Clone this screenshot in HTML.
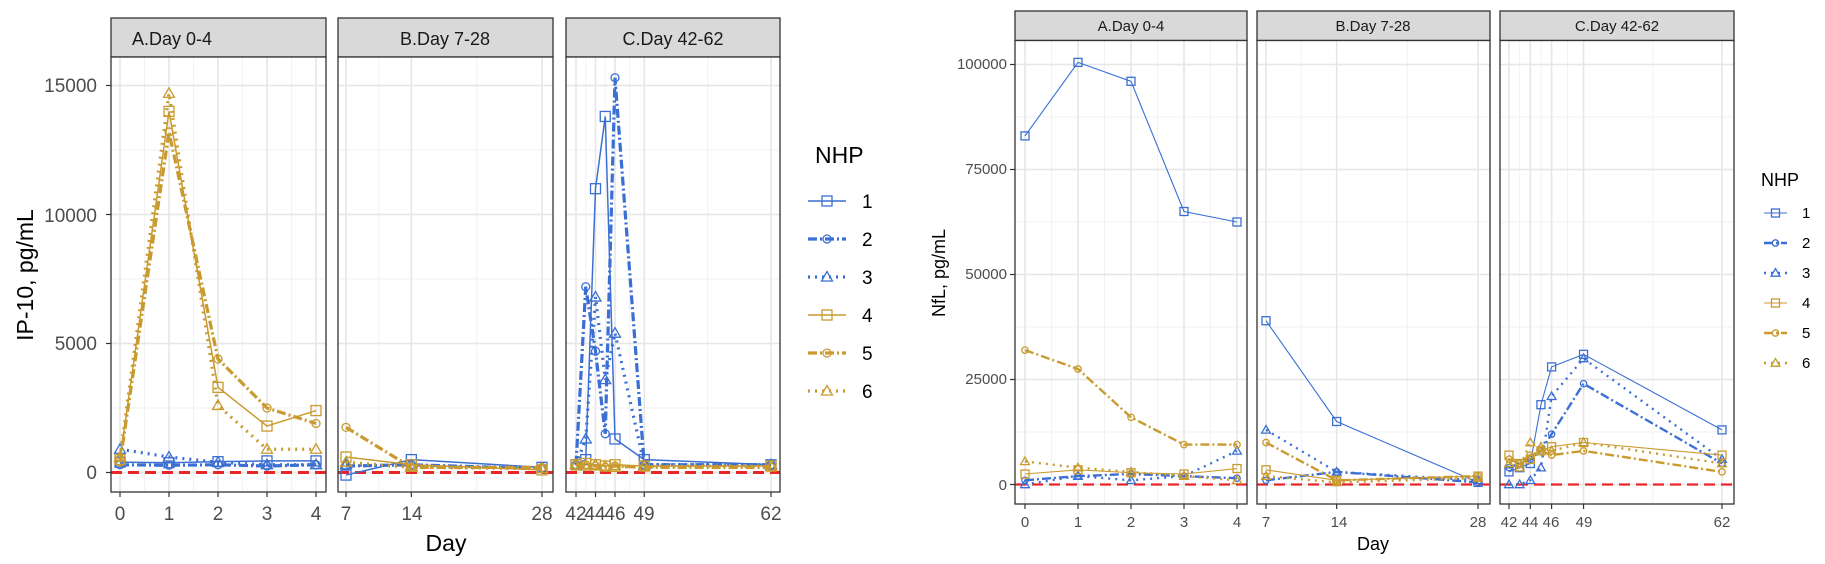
<!DOCTYPE html>
<html><head><meta charset="utf-8"><style>
body{margin:0;background:#fff;}
svg{display:block;font-family:"Liberation Sans",sans-serif;}
</style></head><body>
<svg id="s" width="1825" height="564" viewBox="0 0 1825 564" xmlns="http://www.w3.org/2000/svg">
<rect width="1825" height="564" fill="#fff"/>
<g id="g"></g>
<g fill="#4d4d4d" font-size="19">
<text x="172" y="45" text-anchor="middle" font-size="18" fill="#1a1a1a">A.Day 0-4</text>
<text x="445" y="45" text-anchor="middle" font-size="18" fill="#1a1a1a">B.Day 7-28</text>
<text x="673" y="45" text-anchor="middle" font-size="18" fill="#1a1a1a">C.Day 42-62</text>
<g text-anchor="end"><text x="97" y="92">15000</text><text x="97" y="222">10000</text><text x="97" y="350">5000</text><text x="97" y="479">0</text></g>
<g text-anchor="middle"><text x="120" y="520">0</text><text x="169" y="520">1</text><text x="218" y="520">2</text><text x="267" y="520">3</text><text x="316" y="520">4</text>
<text x="346" y="520">7</text><text x="412" y="520">14</text><text x="542" y="520">28</text>
<text x="576" y="520">42</text><text x="595" y="520">44</text><text x="615" y="520">46</text><text x="644" y="520">49</text><text x="771" y="520">62</text></g>
</g>
<text x="446" y="551" text-anchor="middle" font-size="23" fill="#000">Day</text>
<text transform="translate(33,275) rotate(-90)" text-anchor="middle" font-size="23" fill="#000">IP-10, pg/mL</text>
<text x="815" y="163" font-size="23" fill="#000">NHP</text>
<g font-size="19" fill="#000"><text x="862" y="208">1</text><text x="862" y="246">2</text><text x="862" y="284">3</text><text x="862" y="322">4</text><text x="862" y="360">5</text><text x="862" y="398">6</text></g>
<g fill="#4d4d4d" font-size="15">
<text x="1131" y="31" text-anchor="middle" fill="#1a1a1a">A.Day 0-4</text>
<text x="1373" y="31" text-anchor="middle" fill="#1a1a1a">B.Day 7-28</text>
<text x="1617" y="31" text-anchor="middle" fill="#1a1a1a">C.Day 42-62</text>
<g text-anchor="end"><text x="1007" y="69">100000</text><text x="1007" y="174">75000</text><text x="1007" y="279">50000</text><text x="1007" y="384">25000</text><text x="1007" y="490">0</text></g>
<g text-anchor="middle"><text x="1025" y="527">0</text><text x="1078" y="527">1</text><text x="1131" y="527">2</text><text x="1184" y="527">3</text><text x="1237" y="527">4</text>
<text x="1266" y="527">7</text><text x="1339" y="527">14</text><text x="1478" y="527">28</text>
<text x="1509" y="527">42</text><text x="1530" y="527">44</text><text x="1551" y="527">46</text><text x="1584" y="527">49</text><text x="1722" y="527">62</text></g>
</g>
<text x="1373" y="550" text-anchor="middle" font-size="18" fill="#000">Day</text>
<text transform="translate(945,273) rotate(-90)" text-anchor="middle" font-size="18" fill="#000">NfL, pg/mL</text>
<text x="1761" y="186" font-size="18" fill="#000">NHP</text>
<g font-size="15" fill="#000"><text x="1802" y="218">1</text><text x="1802" y="248">2</text><text x="1802" y="278">3</text><text x="1802" y="308">4</text><text x="1802" y="338">5</text><text x="1802" y="368">6</text></g>
</svg>
<script>
var NS="http://www.w3.org/2000/svg",G=document.getElementById('g');
function el(t,a){var e=document.createElementNS(NS,t);for(var k in a)e.setAttribute(k,a[k]);G.appendChild(e);return e;}
var B="#3b6fd4",O="#c99a2e";
var ST=[null,{c:B,d:"",w:1.3,m:"sq"},{c:B,d:"9,3,2,3",w:2.8,m:"ci"},{c:B,d:"2,5",w:2.8,m:"tr"},{c:O,d:"",w:1.3,m:"sq"},{c:O,d:"9,3,2,3",w:2.8,m:"ci"},{c:O,d:"2,5",w:2.8,m:"tr"}];
function marker(x,y,m,c,r){
 if(m=="sq")el('rect',{x:x-r,y:y-r,width:2*r,height:2*r,fill:"none",stroke:c,"stroke-width":1.3});
 else if(m=="ci")el('circle',{cx:x,cy:y,r:r*0.8,fill:"none",stroke:c,"stroke-width":1.3});
 else el('polygon',{points:(x)+","+(y-r*1.1)+" "+(x-r*1.1)+","+(y+r*0.8)+" "+(x+r*1.1)+","+(y+r*0.8),fill:"none",stroke:c,"stroke-width":1.3});
}
var cid=0;
function panel(p){
 el('rect',{x:p.x0,y:p.y0,width:p.x1-p.x0,height:p.ys-p.y0,fill:"#d9d9d9",stroke:"#333","stroke-width":1.3});
 el('rect',{x:p.x0,y:p.ys,width:p.x1-p.x0,height:p.y1-p.ys,fill:"#fff"});
 var X=function(d){return p.a+(d-p.da)*(p.b-p.a)/(p.db-p.da);};
 var Y=function(v){return p.zy-v*p.vs;};
 p.ygm.forEach(function(v){el('line',{x1:p.x0,x2:p.x1,y1:Y(v),y2:Y(v),stroke:"#f2f2f2","stroke-width":1});});
 p.xgm.forEach(function(v){el('line',{y1:p.ys,y2:p.y1,x1:X(v),x2:X(v),stroke:"#f2f2f2","stroke-width":1});});
 p.yg.forEach(function(v){el('line',{x1:p.x0,x2:p.x1,y1:Y(v),y2:Y(v),stroke:"#e6e6e6","stroke-width":1.6});});
 p.xg.forEach(function(v){el('line',{y1:p.ys,y2:p.y1,x1:X(v),x2:X(v),stroke:"#e6e6e6","stroke-width":1.6});
   el('line',{y1:p.y1,y2:p.y1+5,x1:X(v),x2:X(v),stroke:"#333","stroke-width":1.2});});
 if(p.left)p.yg.forEach(function(v){el('line',{x1:p.x0-5,x2:p.x0,y1:Y(v),y2:Y(v),stroke:"#333","stroke-width":1.2});});
 cid++;var cp=el('clipPath',{id:"c"+cid});var r=document.createElementNS(NS,'rect');
 r.setAttribute('x',p.x0);r.setAttribute('y',p.ys);r.setAttribute('width',p.x1-p.x0);r.setAttribute('height',p.y1-p.ys);cp.appendChild(r);
 el('line',{x1:p.x0,x2:p.x1,y1:Y(0),y2:Y(0),stroke:"#e8262a","stroke-width":p.lw*2.6,"stroke-dasharray":"11,6"});
 for(var i=1;i<=6;i++){var s=ST[i],pts=p.data[i];if(!pts)continue;
  var dd=pts.map(function(q){return X(q[0])+","+Y(q[1]);}).join(" ");
  el('polyline',{points:dd,fill:"none",stroke:s.c,"stroke-width":s.w*p.lw,"stroke-dasharray":s.d,"clip-path":"url(#c"+cid+")"});
  pts.forEach(function(q){marker(X(q[0]),Y(q[1]),s.m,s.c,p.mr);});
 }
 el('rect',{x:p.x0,y:p.ys,width:p.x1-p.x0,height:p.y1-p.ys,fill:"none",stroke:"#333","stroke-width":1.3});
}
function z(ds,vals){return ds.map(function(d,i){return [d,vals[i]];});}
var A=[0,1,2,3,4],Bd=[7,14,28],C=[42,43,44,45,46,49,62];
var L={y0:18,ys:57,y1:492,zy:472.5,vs:129/5000,lw:1.15,mr:5,yg:[0,5000,10000,15000],ygm:[2500,7500,12500]};
panel(Object.assign({},L,{left:1,x0:111,x1:326,a:120,b:316,da:0,db:4,xg:A,xgm:[.5,1.5,2.5,3.5],data:{
1:z(A,[400,380,420,450,450]),2:z(A,[300,280,300,250,300]),3:z(A,[900,600,400,300,300]),
4:z(A,[500,14000,3300,1800,2400]),5:z(A,[400,13200,4400,2500,1900]),6:z(A,[600,14700,2600,900,900])}}));
panel(Object.assign({},L,{x0:338,x1:553,a:346,b:542,da:7,db:28,xg:Bd,xgm:[10.5,21],data:{
1:z(Bd,[-100,500,200]),2:z(Bd,[250,300,150]),3:z(Bd,[300,250,150]),
4:z(Bd,[600,300,100]),5:z(Bd,[1750,200,200]),6:z(Bd,[400,200,150])}}));
panel(Object.assign({},L,{x0:566,x1:780,a:576,b:771,da:42,db:62,xg:[42,44,46,49,62],xgm:[43,45,47.5,55.5],data:{
1:z(C,[300,500,11000,13800,1300,500,300]),2:z(C,[300,7200,4700,1500,15300,300,300]),
3:z(C,[300,1300,6800,3600,5400,300,300]),4:z(C,[300,350,300,250,300,250,250]),
5:z(C,[250,300,250,200,250,200,200]),6:z(C,[300,250,300,250,200,250,250])}}));
var R={y0:11,ys:40.5,y1:504,zy:484.5,vs:105/25000,lw:0.85,mr:4,yg:[0,25000,50000,75000,100000],ygm:[12500,37500,62500,87500]};
panel(Object.assign({},R,{left:1,x0:1015,x1:1247,a:1025,b:1237,da:0,db:4,xg:A,xgm:[.5,1.5,2.5,3.5],data:{
1:z(A,[83000,100500,96000,65000,62500]),2:z(A,[1000,2000,2500,2000,1500]),3:z(A,[0,2000,1000,2000,8000]),
4:z(A,[2500,3500,2800,2500,3800]),5:z(A,[32000,27500,16000,9500,9500]),6:z(A,[5500,4000,3000,2000,1000])}}));
panel(Object.assign({},R,{x0:1257,x1:1490,a:1266,b:1478,da:7,db:28,xg:Bd,xgm:[10.5,21],data:{
1:z(Bd,[39000,15000,500]),2:z(Bd,[1000,3000,500]),3:z(Bd,[13000,3000,1000]),
4:z(Bd,[3500,1000,2000]),5:z(Bd,[10000,1000,2000]),6:z(Bd,[2000,500,1500])}}));
panel(Object.assign({},R,{x0:1500,x1:1734,a:1509,b:1722,da:42,db:62,xg:[42,44,46,49,62],xgm:[43,45,47.5,55.5],data:{
1:z(C,[3000,4000,5000,19000,28000,31000,13000]),2:z(C,[4000,5000,6000,8000,12000,24000,5000]),
3:z(C,[0,0,1000,4000,21000,30000,6000]),4:z(C,[7000,5000,6000,8000,9000,10000,7000]),
5:z(C,[6000,5000,7000,8000,7000,8000,3000]),6:z(C,[5000,4000,10000,9000,8000,10000,5000])}}));
function leg(x0,x1,ys,lw,mr){for(var i=1;i<=6;i++){var s=ST[i],y=ys[i-1];
 el('line',{x1:x0,x2:x1,y1:y,y2:y,stroke:s.c,"stroke-width":s.w*lw,"stroke-dasharray":s.d});marker((x0+x1)/2,y,s.m,s.c,mr);}}
leg(808,846,[201,239,277,315,353,391],1.15,5);
leg(1764,1787,[213,243,273,303,333,363],0.85,4);
</script>
</body></html>
